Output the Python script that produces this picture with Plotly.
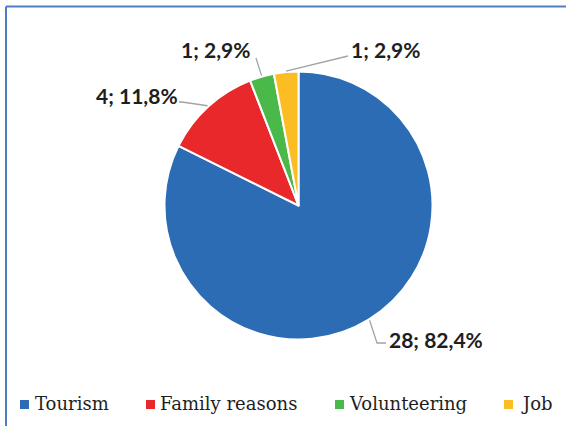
import math
import plotly.graph_objects as go

# Reasons for the stay and number of respondents
categories = ["Tourism", "Family reasons", "Volunteering", "Job"]
counts = [28, 4, 1, 1]
colors = ["#2b6cb4", "#e8282b", "#4bb84a", "#fbbd22"]

W, H = 566, 426
total = sum(counts)
shares = [c / total * 100 for c in counts]


def px(x):
    return x / W


def py(y):
    return 1 - y / H


# pie geometry (pixels)
CX, CY, R = 298.5, 205.5, 134

fig = go.Figure(
    go.Pie(
        labels=categories,
        values=counts,
        marker=dict(colors=colors, line=dict(color="white", width=2)),
        sort=False,
        direction="clockwise",
        rotation=0,
        textinfo="none",
        hoverinfo="label+value+percent",
        showlegend=False,
        domain=dict(x=[px(CX - R), px(CX + R)], y=[py(CY + R), py(CY - R)]),
    )
)


def fmt_label(c, s):
    return f"{c}; {s:.1f}%".replace(".", ",")


# label placement: (anchor x, text centre y, xanchor, leader path after edge point)
label_layout = [
    (387, 339, "left", [(377, 343), (386, 343)]),
    (180, 95, "right", [(182, 102), (179, 102)]),
    (179, 49, "left", [(256, 58)]),
    (349, 49, "left", [(348, 56)]),
]

shapes = []
annotations = []
cum = 0.0
for cat, c, s, col, (lx, ly, xa, path) in zip(categories, counts, shares, colors, label_layout):
    mid = (cum + c / 2) / total * 2 * math.pi
    cum += c
    ex = CX + (R + 1) * math.sin(mid)
    ey = CY - (R + 1) * math.cos(mid)
    pts = [(ex, ey)] + path
    d = "M " + " L ".join(f"{px(x):.5f},{py(y):.5f}" for x, y in pts)
    shapes.append(
        dict(type="path", path=d, xref="paper", yref="paper",
             line=dict(color="#a3a3a3", width=1.3))
    )
    annotations.append(
        dict(x=px(lx), y=py(ly), xref="paper", yref="paper", xanchor=xa, yanchor="middle",
             text=f"<b>{fmt_label(c, s)}</b>", showarrow=False,
             font=dict(family="Lato", size=21, color="#1e1e1e"))
    )

# legend entries: square left edge, text left edge
legend_layout = [(20, 33), (146, 158), (335, 347), (504, 519)]
for cat, col, (sx, tx) in zip(categories, colors, legend_layout):
    shapes.append(
        dict(type="rect", xref="paper", yref="paper",
             x0=px(sx), x1=px(sx + 9), y0=py(409), y1=py(400),
             fillcolor=col, line=dict(width=0))
    )
    annotations.append(
        dict(x=px(tx), y=py(403), xref="paper", yref="paper", xanchor="left", yanchor="middle",
             text=cat, showarrow=False,
             font=dict(family="DejaVu Serif", size=18, color="#1e1e1e"))
    )

# frame lines along the top and left edges
shapes.append(dict(type="line", xref="paper", yref="paper", x0=px(6), x1=px(566), y0=py(6.5), y1=py(6.5),
                   line=dict(color="#4a80c2", width=2)))
shapes.append(dict(type="line", xref="paper", yref="paper", x0=px(6), x1=px(6), y0=py(6.5), y1=py(426),
                   line=dict(color="#4a80c2", width=2)))

fig.update_layout(
    width=W,
    height=H,
    margin=dict(l=0, r=0, t=0, b=0),
    paper_bgcolor="white",
    plot_bgcolor="white",
    shapes=shapes,
    annotations=annotations,
)

fig.write_html("out.html")
